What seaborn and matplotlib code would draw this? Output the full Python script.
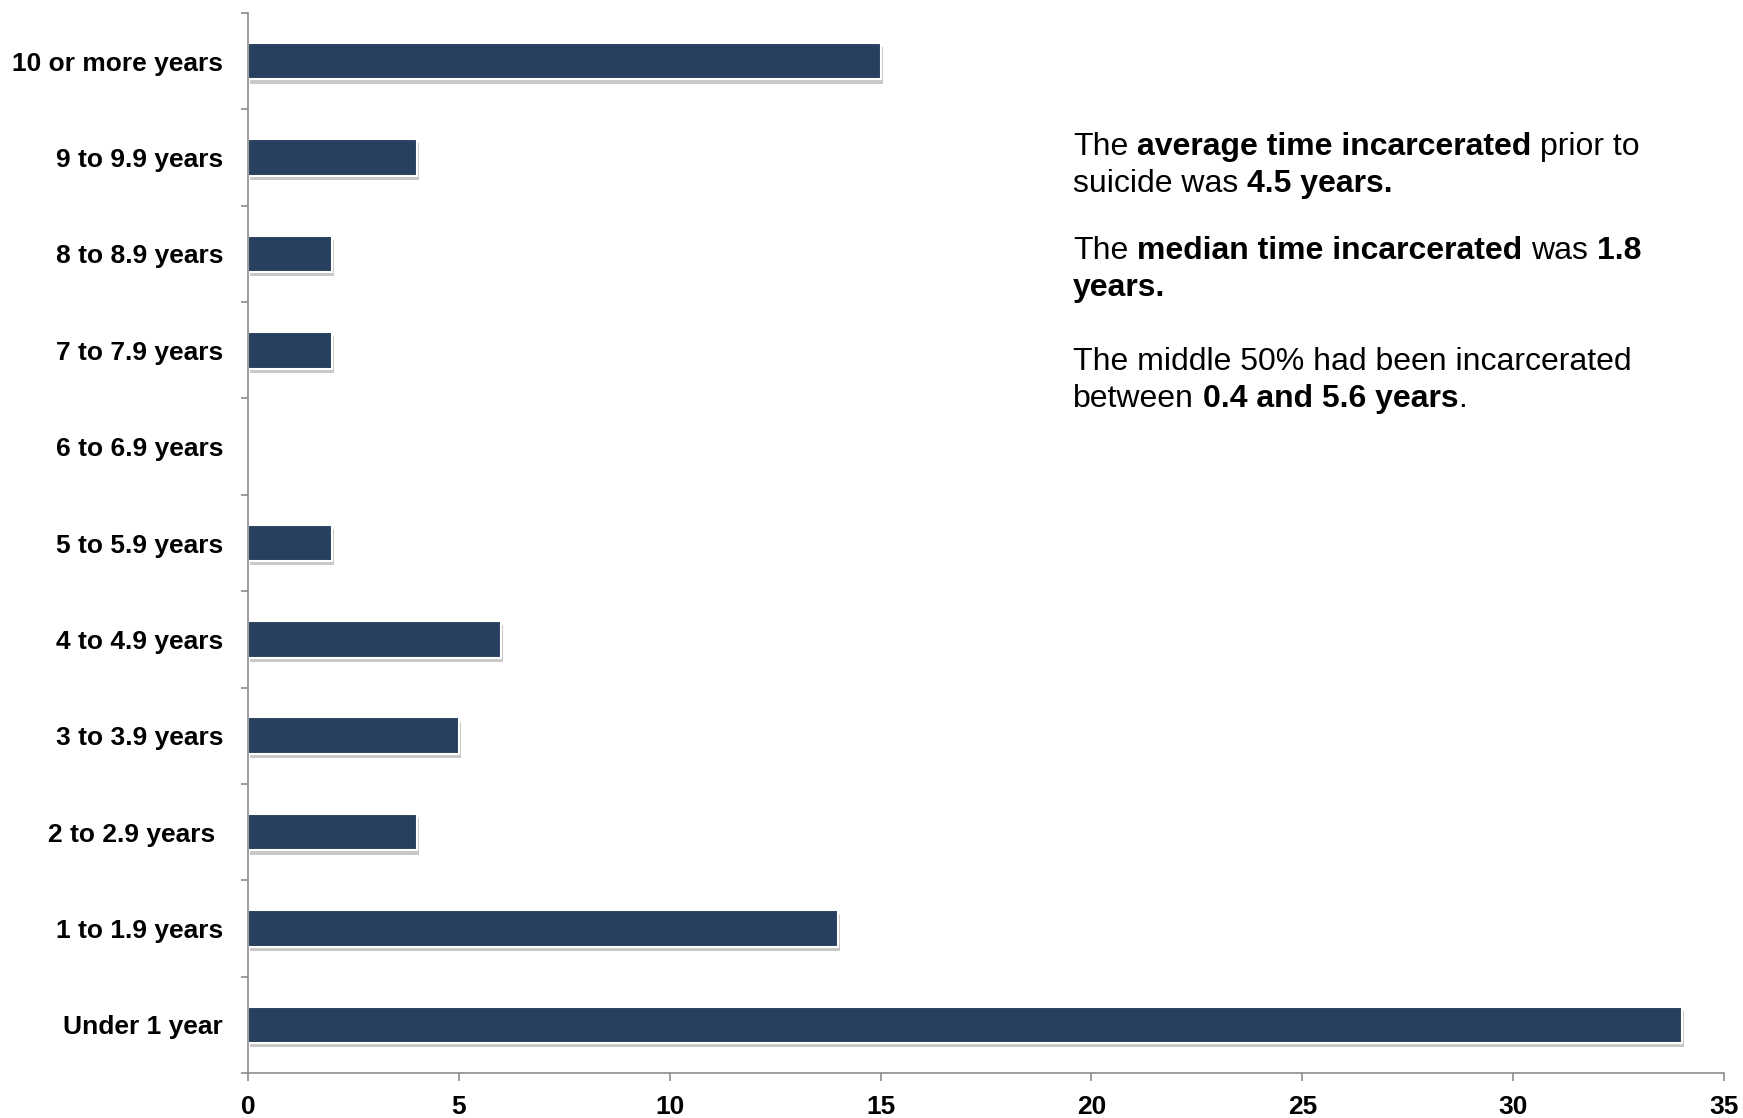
import matplotlib
matplotlib.use("Agg")
import matplotlib.pyplot as plt
import matplotlib.patheffects as pe
from matplotlib.ticker import FixedLocator
import seaborn as sns
import pandas as pd

categories = ["10 or more years", "9 to 9.9 years", "8 to 8.9 years", "7 to 7.9 years",
              "6 to 6.9 years", "5 to 5.9 years", "4 to 4.9 years", "3 to 3.9 years",
              "2 to 2.9 years ", "1 to 1.9 years", "Under 1 year"]
counts = [15, 4, 2, 2, 0, 2, 6, 5, 4, 14, 34]
x_ticks = [0, 5, 10, 15, 20, 25, 30, 35]

note_lines = [
    (155, [("The ", "normal"), ("average time incarcerated", "bold"), (" prior to", "normal")]),
    (192, [("suicide was ", "normal"), ("4.5 years.", "bold")]),
    (259, [("The ", "normal"), ("median time incarcerated", "bold"), (" was ", "normal"), ("1.8", "bold")]),
    (296, [("years.", "bold")]),
    (370, [("The middle 50% had been incarcerated", "normal")]),
    (407, [("between ", "normal"), ("0.4 and 5.6 years", "bold"), (".", "normal")]),
]

sns.set_theme(style="white")
plt.rcParams["font.family"] = ["Liberation Sans", "DejaVu Sans"]

W, H = 1743, 1118
fig = plt.figure(figsize=(W / 100, H / 100), dpi=100)
ax = fig.add_axes([248 / W, 1 - 1073 / H, (1724 - 248) / W, (1073 - 13) / H])

df = pd.DataFrame({"cat": categories, "n": counts})
bar_color = "#27405F"
sns.barplot(data=df, x="n", y="cat", orient="h", color=bar_color, saturation=1,
            width=0.38, edgecolor="white", linewidth=1.5, ax=ax)

for p in ax.patches:
    if p.get_width() > 0:
        p.set_path_effects([pe.SimplePatchShadow(offset=(1.5, -3), shadow_rgbFace="#777777", alpha=0.4),
                            pe.Normal()])

ax.set_xlim(0, 35)
ax.set_ylim(len(categories) - 0.5, -0.5)
ax.set_xlabel("")
ax.set_ylabel("")
ax.xaxis.set_major_locator(FixedLocator(x_ticks))
ax.set_xticklabels([str(v) for v in x_ticks])

grey = "#8C8C8C"
for s in ["top", "right"]:
    ax.spines[s].set_visible(False)
for s in ["left", "bottom"]:
    ax.spines[s].set_color(grey)
    ax.spines[s].set_linewidth(1.2)

ax.yaxis.set_minor_locator(FixedLocator([i - 0.5 for i in range(len(categories) + 1)]))
ax.tick_params(axis="y", which="major", length=0, pad=18)
ax.tick_params(axis="y", which="minor", left=True, length=5, width=1.2, color=grey, direction="out")
ax.tick_params(axis="x", which="major", bottom=True, length=6, width=1.2, color=grey, direction="out", pad=10)
for lab in ax.get_yticklabels() + ax.get_xticklabels():
    lab.set_fontsize(19)
    lab.set_fontweight("bold")
    lab.set_color("black")

# annotation text with mixed weights
fig.canvas.draw()
renderer = fig.canvas.get_renderer()
FS = 23

def measure(s, weight):
    t = fig.text(0, 0, s, fontsize=FS, weight=weight)
    w = t.get_window_extent(renderer).width
    t.remove()
    return w

space_w = {wt: measure("x x", wt) - measure("xx", wt) for wt in ("normal", "bold")}

x0 = 1073
for yb, pieces in note_lines:
    x = x0
    for txt, wt in pieces:
        lead = len(txt) - len(txt.lstrip(" "))
        trail = len(txt) - len(txt.rstrip(" "))
        core = txt.strip(" ")
        x += lead * space_w[wt]
        if core:
            fig.text(x / W, 1 - yb / H, core, fontsize=FS, weight=wt, color="black",
                     ha="left", va="baseline")
            x += measure(core, wt)
        x += trail * space_w[wt]

fig.savefig("out.png", dpi=100)
